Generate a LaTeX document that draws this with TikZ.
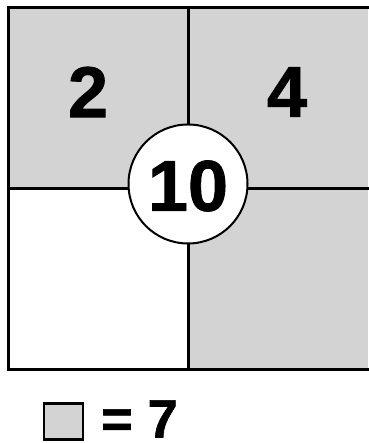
\documentclass[tikz,border=0pt]{standalone}
\usepackage{fontspec}
\setmainfont{Liberation Sans}[BoldFeatures={FakeBold=1.2}]
\definecolor{cellgray}{HTML}{D3D3D3}
\begin{document}
\begin{tikzpicture}[x=1pt,y=1pt,
  gridline/.style={draw=black,line width=3pt,line cap=rect},
  big/.style={font=\fontsize{72}{72}\selectfont\bfseries},
  legtext/.style={font=\fontsize{54}{54}\selectfont\bfseries}]
\useasboundingbox (0,0) rectangle (368,443);
\fill[white] (0,0) rectangle (368,443);
% cells
\fill[cellgray] (8,254) rectangle (188,435);
\fill[cellgray] (188,254) rectangle (368,435);
\fill[cellgray] (188,73) rectangle (368,254);
% grid lines (no right border, as in the reference)
\draw[gridline] (368,435) -- (8,435) -- (8,73) -- (368,73);
\draw[gridline] (188,435) -- (188,73);
\draw[gridline] (8,254) -- (368,254);
\node[big] (two) at (88,351) {2};
\node[big] (four) at (287,351) {4};
\node[circle,draw=black,line width=2pt,fill=white,minimum size=119pt,inner sep=0pt] (ctr) at (188,259) {};
\node[big] (ten) at (188,257) {10};
\node[draw=black,line width=2.5pt,fill=cellgray,minimum width=39pt,minimum height=36pt,inner sep=0pt] (leg) at (63.5,21.5) {};
\node[legtext,anchor=base west,inner sep=0pt] (eq) at (101,5.5) {= 7};
\end{tikzpicture}
\end{document}
